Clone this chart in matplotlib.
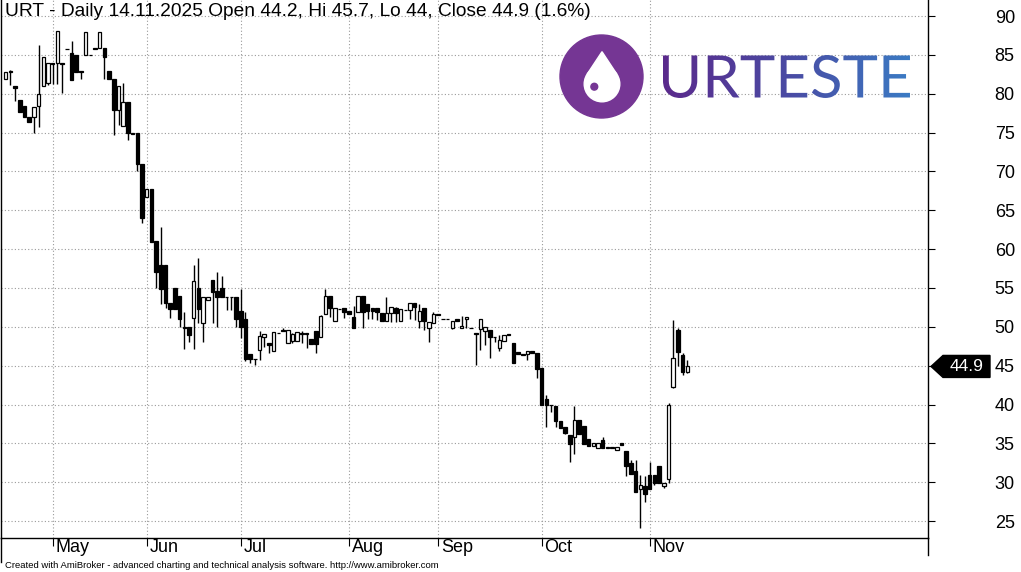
import numpy as np
import matplotlib.pyplot as plt
from matplotlib.patches import Circle, Polygon, PathPatch
from matplotlib.textpath import TextPath
from matplotlib.font_manager import FontProperties
from matplotlib.transforms import Affine2D, blended_transform_factory, offset_copy
from matplotlib.lines import Line2D
from matplotlib.colors import LinearSegmentedColormap

# daily OHLC, mid April -> 14.11.2025
opens = [81.85, 82.9, 81.0, 79.2, 78.4, 77.05, 76.95, 78.45, 81.0, 81.35,
         83.9, 83.9, 83.9, 85.75, 85.3, 85.0, 82.9, 85.0, 85.0, 85.85,
         85.85, 85.85, 82.95, 81.9, 77.9, 75.9, 78.9, 74.9, 74.9, 70.95,
         66.75, 67.7, 61.0, 58.0, 58.0, 53.0, 55.0, 53.95, 49.95, 49.95,
         51.1, 54.95, 50.45, 53.5, 56.0, 54.6, 54.95, 53.9, 53.9, 53.9,
         52.0, 51.0, 46.5, 45.85, 47.0, 48.75, 47.95, 46.9, 49.2, 49.55,
         47.95, 48.2, 48.15, 49.15, 49.15, 48.4, 49.45, 48.65, 51.6, 53.95,
         50.8, 52.3, 52.4, 52.0, 51.3, 51.95, 53.95, 52.9, 52.45, 52.4,
         51.8, 50.8, 51.75, 52.4, 50.8, 52.15, 52.15, 53.0, 50.8, 52.4,
         49.8, 50.45, 51.6, 51.0, 51.0, 49.9, 51.0, 49.8, 51.0, 49.85,
         49.2, 49.7, 49.5, 49.6, 48.75, 47.3, 48.2, 49.05, 47.9, 46.75,
         46.45, 46.45, 46.9, 46.6, 44.65, 40.7, 40.0, 39.8, 37.9, 37.1,
         36.1, 35.8, 38.0, 37.2, 35.5, 34.6, 34.4, 35.4, 34.5, 34.5,
         34.2, 35.0, 34.0, 32.5, 31.45, 29.1, 29.5, 30.9, 30.9, 32.1,
         29.55, 30.35, 42.2, 49.6, 46.4, 44.2]
highs = [82.85, 83.05, 81.0, 79.2, 78.4, 77.05, 78.3, 86.3, 84.7, 83.9,
         83.9, 88.1, 83.9, 85.75, 86.8, 85.0, 82.9, 87.9, 85.0, 85.85,
         87.9, 85.85, 82.95, 81.9, 81.0, 81.4, 78.9, 74.9, 74.9, 70.95,
         67.7, 67.7, 61.0, 62.8, 58.0, 53.0, 55.0, 53.95, 51.9, 49.95,
         57.9, 58.8, 53.8, 53.9, 56.0, 57.0, 56.55, 53.9, 53.9, 53.9,
         54.85, 51.9, 46.5, 45.85, 49.45, 49.05, 47.95, 49.35, 49.2, 49.8,
         49.6, 49.2, 49.3, 49.4, 49.15, 48.4, 49.45, 51.5, 54.85, 53.95,
         52.4, 52.3, 52.4, 52.0, 52.7, 53.95, 53.95, 52.9, 52.45, 52.4,
         51.8, 53.9, 52.6, 52.5, 52.3, 52.15, 53.0, 53.0, 52.95, 52.4,
         50.65, 51.95, 51.6, 51.0, 51.0, 50.8, 51.0, 51.4, 51.3, 49.85,
         49.2, 51.0, 49.95, 49.6, 48.75, 48.95, 48.95, 49.05, 47.9, 46.75,
         46.45, 46.85, 46.9, 46.6, 44.65, 41.2, 40.0, 39.8, 37.9, 37.1,
         36.1, 39.8, 38.0, 37.2, 35.5, 35.0, 35.0, 35.85, 34.5, 34.5,
         34.5, 35.0, 34.0, 32.9, 32.9, 30.9, 30.8, 32.55, 30.9, 32.1,
         29.9, 40.15, 50.9, 49.8, 46.6, 45.7]
lows = [81.85, 81.1, 79.0, 77.7, 77.0, 76.3, 75.0, 75.75, 81.0, 81.1,
        81.3, 81.3, 80.05, 85.7, 81.75, 82.85, 81.85, 85.0, 84.95, 85.8,
        85.85, 81.95, 81.85, 74.7, 76.0, 75.9, 74.0, 74.85, 70.0, 63.3,
        66.75, 60.95, 55.0, 52.9, 52.45, 51.1, 52.35, 50.0, 47.2, 48.1,
        47.2, 50.45, 48.1, 53.5, 50.45, 50.0, 53.8, 52.1, 52.1, 50.0,
        48.6, 45.65, 45.4, 45.1, 45.7, 47.4, 46.6, 46.9, 49.15, 49.5,
        47.95, 47.9, 48.15, 47.9, 47.3, 47.8, 46.6, 48.65, 51.6, 51.3,
        50.8, 52.25, 51.1, 51.6, 49.9, 51.95, 49.8, 51.0, 51.0, 50.9,
        50.8, 50.8, 50.65, 50.65, 50.8, 52.1, 51.0, 50.9, 49.8, 49.6,
        48.1, 50.45, 51.55, 50.95, 50.95, 49.7, 50.8, 49.8, 49.9, 49.8,
        45.1, 47.0, 47.65, 45.95, 48.1, 46.9, 48.2, 48.9, 45.4, 46.55,
        46.4, 45.7, 46.65, 43.45, 40.0, 37.15, 39.1, 37.15, 37.0, 36.2,
        32.6, 33.6, 36.2, 34.9, 34.6, 34.6, 34.4, 34.4, 34.35, 34.45,
        34.2, 34.8, 30.8, 31.0, 28.8, 24.15, 27.5, 29.1, 29.65, 29.9,
        29.2, 29.85, 42.1, 44.9, 43.8, 44.0]
closes = [82.85, 82.85, 80.7, 77.7, 77.0, 76.3, 78.3, 79.9, 84.7, 83.9,
          83.85, 88.1, 83.85, 85.7, 81.75, 82.85, 82.85, 87.9, 84.95, 85.8,
          87.9, 84.7, 81.85, 77.9, 81.0, 78.9, 74.9, 74.85, 70.9, 63.95,
          67.7, 60.95, 57.1, 54.9, 53.0, 52.35, 52.35, 50.95, 49.9, 49.0,
          55.9, 52.35, 53.8, 53.9, 54.5, 53.9, 53.8, 53.85, 53.85, 50.95,
          49.95, 45.85, 45.8, 45.8, 48.8, 49.05, 47.6, 49.35, 49.15, 49.5,
          49.6, 49.05, 49.3, 49.1, 49.1, 47.8, 47.8, 51.4, 53.95, 52.4,
          52.4, 52.25, 51.9, 51.6, 49.9, 53.95, 51.95, 52.0, 52.0, 51.9,
          50.8, 51.8, 52.6, 51.75, 52.3, 52.1, 53.0, 52.6, 52.0, 50.8,
          50.65, 51.65, 51.55, 50.95, 50.95, 50.8, 50.8, 50.15, 51.3, 49.8,
          49.05, 51.0, 49.95, 48.75, 48.7, 48.3, 48.95, 48.9, 45.4, 46.55,
          46.4, 46.85, 46.65, 44.6, 40.0, 40.0, 39.95, 37.9, 37.0, 36.3,
          34.9, 38.0, 36.2, 34.9, 34.6, 35.0, 35.0, 34.4, 34.35, 34.45,
          34.5, 34.8, 32.1, 31.0, 28.8, 29.65, 28.45, 29.1, 29.9, 29.9,
          29.9, 40.0, 45.95, 46.8, 44.2, 44.9]

month_names = ['May', 'Jun', 'Jul', 'Aug', 'Sep', 'Oct', 'Nov']
month_first_bar = [10, 30, 50, 73, 92, 114, 137]
price_ticks = list(range(25, 95, 5))
title = "URT - Daily 14.11.2025 Open 44.2, Hi 45.7, Lo 44, Close 44.9 (1.6%)"
footer = ("Created with AmiBroker - advanced charting and technical analysis "
          "software. http://www.amibroker.com")
brand = "URTESTE"

plt.rcParams['font.family'] = ['Liberation Sans', 'DejaVu Sans']

W, H = 1021, 572
fig = plt.figure(figsize=(W / 100, H / 100), dpi=100)
ax = fig.add_axes([1 / W, 1 - 538 / H, 927 / W, 538 / H])

o = np.array(opens); h = np.array(highs); l = np.array(lows); c = np.array(closes)
x = np.arange(len(o))
up = c >= o

ax.vlines(x, l, h, color='black', lw=1.0, zorder=2)
ax.bar(x, np.abs(c - o), bottom=np.minimum(o, c), width=0.75,
       color=np.where(up, 'white', 'black'), edgecolor='black', lw=0.9, zorder=3)

ax.set_xlim(-1.0, 196.2)
ax.set_ylim(22.82, 92.06)

ax.yaxis.tick_right()
ax.set_yticks(price_ticks)
ax.tick_params(axis='y', direction='out', length=5, pad=43, labelsize=13)
ax.set_xticks(month_first_bar)
ax.tick_params(axis='x', direction='out', length=6, labelbottom=False)

# month names sit just right of their tick, close under the axis
btr = blended_transform_factory(ax.transData, ax.transAxes)
mtr = offset_copy(btr, fig=fig, x=2, y=-1, units='points')
for m, name in zip(month_first_bar, month_names):
    ax.text(m, 0, name, transform=mtr, ha='left', va='top', fontsize=13, clip_on=False)

ax.grid(True, color='#9a9a9a', linestyle=(0, (1, 2)), lw=0.8)
ax.set_axisbelow(True)
ax.spines['top'].set_visible(False)
for s in ['left', 'right', 'bottom']:
    ax.spines[s].set_linewidth(1.0)

# spine stubs below the chart area
fig.add_artist(Line2D([928 / W, 928 / W], [1 - 538 / H, 1 - 555 / H], color='black', lw=1))
fig.add_artist(Line2D([1 / W, 1 / W], [1 - 538 / H, 1 - 562 / H], color='black', lw=1))

fig.text(5 / W, 1 - 12 / H, title, fontsize=13.8, va='center', ha='left')
fig.text(5 / W, 1 - 566 / H, footer, fontsize=6.8, va='center', ha='left')

# overlay in pixel coordinates (y up)
lax = fig.add_axes([0, 0, 1, 1], zorder=5)
lax.patch.set_alpha(0)
lax.axis('off')

# logo
lax.add_patch(Circle((601.5, H - 76.5), 41.5, color='#753694'))
tip = (602, H - 51.7)
cen = (602, H - 84)
r = 17.8
th = np.arccos(r / (tip[1] - cen[1]))
lax.add_patch(Circle(cen, r, color='white'))
lax.add_patch(Polygon([tip, (cen[0] - r * np.sin(th), cen[1] + r * np.cos(th)),
                       cen, (cen[0] + r * np.sin(th), cen[1] + r * np.cos(th))],
                      closed=True, color='white'))
lax.add_patch(Circle((594.3, H - 86.7), 3.4, color='#753694'))

tp = TextPath((0, 0), brand, size=60, prop=FontProperties(family='Lato'))
ext = tp.get_extents()
x0, x1, yb, yt = 663, 910, H - 98, H - 55
tr = Affine2D().translate(-ext.x0, -ext.y0).scale((x1 - x0) / ext.width,
                                                   (yt - yb) / ext.height).translate(x0, yb)
tpatch = PathPatch(tr.transform_path(tp), fc='none', ec='none')
lax.add_patch(tpatch)
cmap = LinearSegmentedColormap.from_list('brand', ['#5b2a8c', '#4a4aa3', '#3b7bc4'])
im = lax.imshow(np.linspace(0, 1, 256).reshape(1, -1), extent=[x0, x1, yb, yt],
                cmap=cmap, aspect='auto', interpolation='bilinear')
im.set_clip_path(tpatch)

lax.set_xlim(0, W)
lax.set_ylim(0, H)

# last price marker
py = ax.transData.transform((0, closes[-1]))[1]
lax.add_patch(Polygon([(931, py), (943, py + 11), (990, py + 11), (990, py - 11), (943, py - 11)],
                      closed=True, color='black'))
lax.text(967, py, f"{closes[-1]:.1f}", color='white', fontsize=12.5, ha='center', va='center')

fig.savefig('out.png', dpi=100)
